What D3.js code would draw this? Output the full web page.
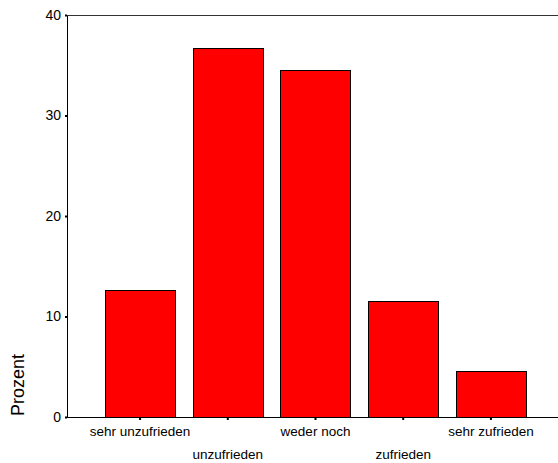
<!DOCTYPE html>
<html><head><meta charset="utf-8">
<script src="https://cdn.jsdelivr.net/npm/d3@7"></script>
<style>body{margin:0;background:#fff}svg{display:block}text{font-family:"Liberation Sans",Arial,sans-serif}</style>
</head><body>
<svg id="c" width="558" height="463"></svg>
<script>
const categories = ["sehr unzufrieden","unzufrieden","weder noch","zufrieden","sehr zufrieden"];
const values = [12.6, 36.7, 34.5, 11.5, 4.6];
const yTicks = [0, 10, 20, 30, 40];

const svg = d3.select("#c");
const x = d3.scaleBand().domain(categories).range([105, 526]).paddingInner(0.2).paddingOuter(0);
const y = d3.scaleLinear().domain([0, 40]).range([417, 15]);
const axisX0 = 67, rightX = 558;

// bars
svg.selectAll("rect.bar").data(values).join("rect")
  .attr("class","bar")
  .attr("x",(d,i)=>Math.round(x(categories[i]))+0.5)
  .attr("y",d=>Math.round(y(d))+0.5)
  .attr("width",Math.round(x.bandwidth()))
  .attr("height",d=>y(0)-Math.round(y(d)))
  .attr("fill","#ff0000").attr("stroke","#000").attr("stroke-width",1);

// frame lines
svg.append("line").attr("x1",axisX0+0.5).attr("x2",axisX0+0.5).attr("y1",y(40)).attr("y2",y(0)+0.5).attr("stroke","#000");
svg.append("line").attr("x1",axisX0).attr("x2",rightX).attr("y1",y(40)+0.5).attr("y2",y(40)+0.5).attr("stroke","#333");
svg.append("line").attr("x1",axisX0).attr("x2",rightX).attr("y1",y(0)+0.5).attr("y2",y(0)+0.5).attr("stroke","#000");

// y axis
const yAxis = d3.axisLeft(y).tickValues(yTicks).tickSize(2).tickPadding(4);
const gy = svg.append("g").attr("transform",`translate(${axisX0},0)`).call(yAxis);
gy.select(".domain").remove();
gy.selectAll(".tick line").attr("stroke","#000").attr("stroke-width",2);
gy.selectAll(".tick text").attr("font-size",14).attr("fill","#000").style("font-family","Liberation Sans, Arial, sans-serif");

// x axis
const xAxis = d3.axisBottom(x).tickSize(2).tickPadding(0);
const gx = svg.append("g").attr("transform",`translate(0,${y(0)+1})`).call(xAxis);
gx.select(".domain").remove();
gx.selectAll(".tick line").attr("stroke","#000").attr("stroke-width",2);
gx.selectAll(".tick text").attr("font-size",13.5).attr("fill","#000")
  .style("font-family","Liberation Sans, Arial, sans-serif")
  .attr("y",(d,i)=> i%2===0 ? 8 : 31).attr("dy","0.71em");

// y label
svg.append("text").attr("transform","translate(24,385) rotate(-90)")
  .attr("text-anchor","middle").attr("font-size",18).attr("fill","#000").text("Prozent");
</script>
</body></html>
